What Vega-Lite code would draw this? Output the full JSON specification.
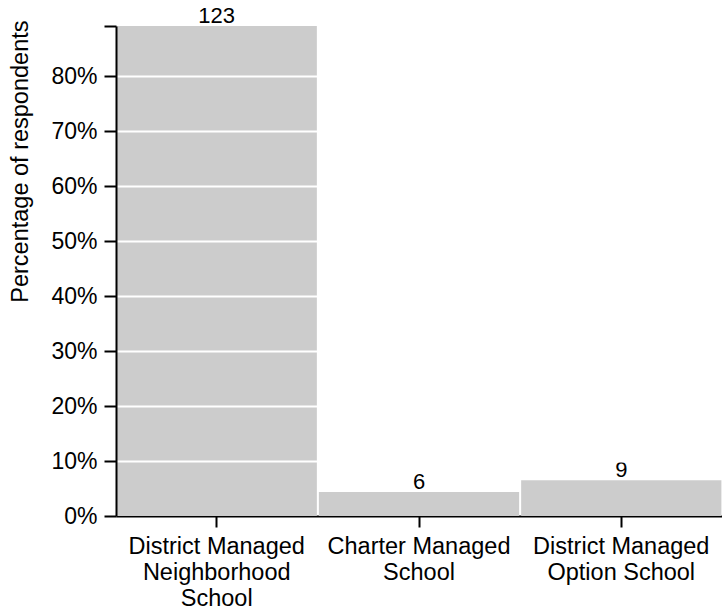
{
  "$schema": "https://vega.github.io/schema/vega-lite/v6.json",
  "width": 606,
  "height": 490,
  "autosize": {"type": "none"},
  "padding": {"left": 116, "top": 26, "right": 0, "bottom": 94},
  "background": "white",
  "config": {"view": {"stroke": null}, "font": "Liberation Sans"},
  "data": {
    "values": [
      {"category": "District Managed Neighborhood School", "count": 123, "pct": 0.8913},
      {"category": "Charter Managed School", "count": 6, "pct": 0.0435},
      {"category": "District Managed Option School", "count": 9, "pct": 0.0652}
    ]
  },
  "encoding": {
    "x": {
      "field": "category",
      "type": "nominal",
      "sort": null,
      "scale": {"paddingInner": 0.01, "paddingOuter": 0.003},
      "axis": {
        "title": null,
        "labelAngle": 0,
        "labelExpr": "datum.label == 'District Managed Neighborhood School' ? ['District Managed', 'Neighborhood', 'School'] : datum.label == 'Charter Managed School' ? ['Charter Managed', 'School'] : ['District Managed', 'Option School']",
        "labelLineHeight": 26,
        "labelFontSize": 23.5,
        "labelLimit": 400,
        "labelColor": "black",
        "labelPadding": 7,
        "tickSize": 11,
        "tickWidth": 2,
        "tickColor": "black",
        "domainColor": "black",
        "domainWidth": 2,
        "grid": false
      }
    },
    "y": {
      "field": "pct",
      "type": "quantitative",
      "scale": {"domain": [0, 0.8913], "nice": false},
      "axis": {
        "title": "Percentage of respondents",
        "format": ".0%",
        "values": [0, 0.1, 0.2, 0.3, 0.4, 0.5, 0.6, 0.7, 0.8, 0.8913],
        "labelExpr": "datum.value > 0.85 ? '' : datum.label",
        "grid": true,
        "gridColor": "white",
        "gridWidth": 2,
        "gridOpacity": {"condition": {"test": "datum.value > 0.85 || datum.value == 0", "value": 0}, "value": 1},
        "zindex": 1,
        "domainColor": "black",
        "domainWidth": 2,
        "tickColor": "black",
        "tickWidth": 2,
        "tickSize": 12,
        "labelPadding": 7,
        "labelFontSize": 23,
        "labelColor": "black",
        "titleFontSize": 23.5,
        "titleFontWeight": "normal",
        "titleColor": "black",
        "titleX": -84,
        "titleY": -6,
        "titleAngle": -90,
        "titleAlign": "right",
        "titleBaseline": "bottom"
      }
    }
  },
  "layer": [
    {"mark": {"type": "bar", "color": "#cccccc"}},
    {
      "mark": {"type": "text", "baseline": "alphabetic", "dy": -3, "fontSize": 22, "color": "black"},
      "encoding": {"text": {"field": "count", "type": "quantitative"}}
    }
  ]
}
